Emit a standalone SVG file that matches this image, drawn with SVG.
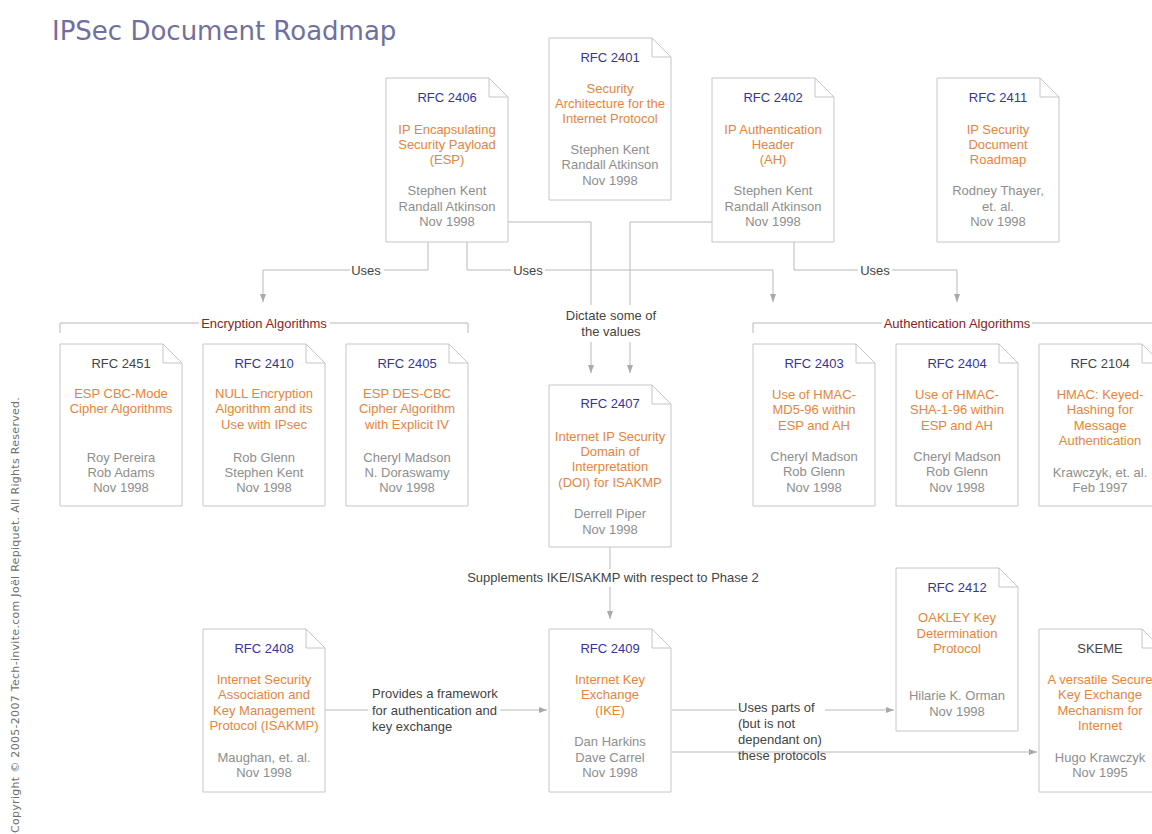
<svg xmlns="http://www.w3.org/2000/svg" width="1152" height="834" viewBox="0 0 1152 834">
<style>
.box{fill:#fff;stroke:#c6c6c6;stroke-width:1}
.fold{fill:none;stroke:#c6c6c6;stroke-width:1}
text{font-family:"Liberation Sans",Arial,sans-serif;font-size:13px}
.n text{text-anchor:middle}
.rfc{fill:#35359c}
.rfcd{fill:#444}
.ttl{fill:#e6843c}
.aut{fill:#8e8e8e}
.lbl{fill:#444}
.cat{fill:#8a2222}
.con{fill:none;stroke:#b9b9b9;stroke-width:1}
.bg{fill:#fff}
</style>
<defs>
<marker id="ah" markerUnits="userSpaceOnUse" markerWidth="9" markerHeight="7" refX="8" refY="3.5" orient="auto">
<path d="M0,0.5 L8,3.5 L0,6.5 Z" fill="#a9a9a9"/>
</marker>
</defs>
<rect width="1152" height="834" fill="#fff"/>
<text x="52" y="40" style="font-family:'DejaVu Sans',sans-serif;font-size:26px;fill:#7070a0">IPSec Document Roadmap</text>
<text transform="translate(19,833) rotate(-90)" style="font-family:'DejaVu Sans',sans-serif;font-size:11px;fill:#707070;letter-spacing:0.3px">Copyright © 2005-2007 Tech-invite.com Joël Repiquet. All Rights Reserved.</text>

<g id="connectors">
<path class="con" d="M428,242 V270 H263 V302" marker-end="url(#ah)"/>
<path class="con" d="M467,242 V270 H773 V302" marker-end="url(#ah)"/>
<path class="con" d="M508,222 H591 V373" marker-end="url(#ah)"/>
<path class="con" d="M712,222 H630 V373" marker-end="url(#ah)"/>
<path class="con" d="M794,242 V270 H957 V302" marker-end="url(#ah)"/>
<path class="con" d="M610,547 V619" marker-end="url(#ah)"/>
<path class="con" d="M325,710 H547" marker-end="url(#ah)"/>
<path class="con" d="M672,710 H894" marker-end="url(#ah)"/>
<path class="con" d="M60,333 V323 H468 V333"/>
<path class="con" d="M753,333 V323 H1161"/>
<rect class="bg" x="350" y="262" width="34" height="16"/>
<rect class="bg" x="511" y="262" width="34" height="16"/>
<rect class="bg" x="858" y="262" width="34" height="16"/>
<rect class="bg" x="560" y="305" width="102" height="37"/>
<rect class="bg" x="199" y="315" width="131" height="16"/>
<rect class="bg" x="882" y="315" width="150" height="16"/>
<rect class="bg" x="462" y="569" width="302" height="18"/>
<rect class="bg" x="368" y="686" width="132" height="49"/>
<rect class="bg" x="737" y="701" width="88" height="17"/>
<path class="con" d="M672,752 H1037" marker-end="url(#ah)"/>
<text class="lbl" x="366" y="275" text-anchor="middle">Uses</text>
<text class="lbl" x="528" y="275" text-anchor="middle">Uses</text>
<text class="lbl" x="875" y="275" text-anchor="middle">Uses</text>
<text class="lbl" x="611" y="320" text-anchor="middle">Dictate some of</text>
<text class="lbl" x="611" y="336" text-anchor="middle">the values</text>
<text class="cat" x="264" y="328" text-anchor="middle">Encryption Algorithms</text>
<text class="cat" x="957" y="328" text-anchor="middle">Authentication Algorithms</text>
<text class="lbl" x="613" y="582" text-anchor="middle">Supplements IKE/ISAKMP with respect to Phase 2</text>
<text class="lbl" x="372" y="698">Provides a framework</text>
<text class="lbl" x="372" y="715">for authentication and</text>
<text class="lbl" x="372" y="731">key exchange</text>
<text class="lbl" x="738" y="712">Uses parts of</text>
<text class="lbl" x="738" y="728">(but is not</text>
<text class="lbl" x="738" y="744">dependant on)</text>
<text class="lbl" x="738" y="760">these protocols</text>
</g>

<g id="rfc2406" class="n">
<path class="box" d="M386,78 H489 L508,97 V242 H386 Z"/><path class="fold" d="M489,78 V97 H508"/>
<text class="rfc" x="447" y="102">RFC 2406</text>
<text class="ttl" x="447" y="134">IP Encapsulating</text>
<text class="ttl" x="447" y="149">Security Payload</text>
<text class="ttl" x="447" y="164">(ESP)</text>
<text class="aut" x="447" y="195">Stephen Kent</text>
<text class="aut" x="447" y="211">Randall Atkinson</text>
<text class="aut" x="447" y="226">Nov 1998</text>
</g>

<g id="rfc2401" class="n">
<path class="box" d="M549,38 H652 L671,57 V200 H549 Z"/><path class="fold" d="M652,38 V57 H671"/>
<text class="rfc" x="610" y="62">RFC 2401</text>
<text class="ttl" x="610" y="93">Security</text>
<text class="ttl" x="610" y="108">Architecture for the</text>
<text class="ttl" x="610" y="123">Internet Protocol</text>
<text class="aut" x="610" y="154">Stephen Kent</text>
<text class="aut" x="610" y="169">Randall Atkinson</text>
<text class="aut" x="610" y="185">Nov 1998</text>
</g>

<g id="rfc2402" class="n">
<path class="box" d="M712,78 H815 L834,97 V242 H712 Z"/><path class="fold" d="M815,78 V97 H834"/>
<text class="rfc" x="773" y="102">RFC 2402</text>
<text class="ttl" x="773" y="134">IP Authentication</text>
<text class="ttl" x="773" y="149">Header</text>
<text class="ttl" x="773" y="164">(AH)</text>
<text class="aut" x="773" y="195">Stephen Kent</text>
<text class="aut" x="773" y="211">Randall Atkinson</text>
<text class="aut" x="773" y="226">Nov 1998</text>
</g>

<g id="rfc2411" class="n">
<path class="box" d="M937,78 H1040 L1059,97 V242 H937 Z"/><path class="fold" d="M1040,78 V97 H1059"/>
<text class="rfc" x="998" y="102">RFC 2411</text>
<text class="ttl" x="998" y="134">IP Security</text>
<text class="ttl" x="998" y="149">Document</text>
<text class="ttl" x="998" y="164">Roadmap</text>
<text class="aut" x="998" y="195">Rodney Thayer,</text>
<text class="aut" x="998" y="211">et. al.</text>
<text class="aut" x="998" y="226">Nov 1998</text>
</g>

<g id="rfc2451" class="n">
<path class="box" d="M60,344 H163 L182,363 V506 H60 Z"/><path class="fold" d="M163,344 V363 H182"/>
<text class="rfcd" x="121" y="368">RFC 2451</text>
<text class="ttl" x="121" y="398">ESP CBC-Mode</text>
<text class="ttl" x="121" y="413">Cipher Algorithms</text>
<text class="aut" x="121" y="462">Roy Pereira</text>
<text class="aut" x="121" y="477">Rob Adams</text>
<text class="aut" x="121" y="492">Nov 1998</text>
</g>

<g id="rfc2410" class="n">
<path class="box" d="M203,344 H306 L325,363 V506 H203 Z"/><path class="fold" d="M306,344 V363 H325"/>
<text class="rfc" x="264" y="368">RFC 2410</text>
<text class="ttl" x="264" y="398">NULL Encryption</text>
<text class="ttl" x="264" y="413">Algorithm and its</text>
<text class="ttl" x="264" y="429">Use with IPsec</text>
<text class="aut" x="264" y="462">Rob Glenn</text>
<text class="aut" x="264" y="477">Stephen Kent</text>
<text class="aut" x="264" y="492">Nov 1998</text>
</g>

<g id="rfc2405" class="n">
<path class="box" d="M346,344 H449 L468,363 V506 H346 Z"/><path class="fold" d="M449,344 V363 H468"/>
<text class="rfc" x="407" y="368">RFC 2405</text>
<text class="ttl" x="407" y="398">ESP DES-CBC</text>
<text class="ttl" x="407" y="413">Cipher Algorithm</text>
<text class="ttl" x="407" y="429">with Explicit IV</text>
<text class="aut" x="407" y="462">Cheryl Madson</text>
<text class="aut" x="407" y="477">N. Doraswamy</text>
<text class="aut" x="407" y="492">Nov 1998</text>
</g>

<g id="rfc2407" class="n">
<path class="box" d="M549,385 H652 L671,404 V547 H549 Z"/><path class="fold" d="M652,385 V404 H671"/>
<text class="rfc" x="610" y="408">RFC 2407</text>
<text class="ttl" x="610" y="441">Internet IP Security</text>
<text class="ttl" x="610" y="456">Domain of</text>
<text class="ttl" x="610" y="471">Interpretation</text>
<text class="ttl" x="610" y="487">(DOI) for ISAKMP</text>
<text class="aut" x="610" y="518">Derrell Piper</text>
<text class="aut" x="610" y="534">Nov 1998</text>
</g>

<g id="rfc2403" class="n">
<path class="box" d="M753,344 H856 L875,363 V506 H753 Z"/><path class="fold" d="M856,344 V363 H875"/>
<text class="rfc" x="814" y="368">RFC 2403</text>
<text class="ttl" x="814" y="399">Use of HMAC-</text>
<text class="ttl" x="814" y="414">MD5-96 within</text>
<text class="ttl" x="814" y="430">ESP and AH</text>
<text class="aut" x="814" y="461">Cheryl Madson</text>
<text class="aut" x="814" y="476">Rob Glenn</text>
<text class="aut" x="814" y="492">Nov 1998</text>
</g>

<g id="rfc2404" class="n">
<path class="box" d="M896,344 H999 L1018,363 V506 H896 Z"/><path class="fold" d="M999,344 V363 H1018"/>
<text class="rfc" x="957" y="368">RFC 2404</text>
<text class="ttl" x="957" y="399">Use of HMAC-</text>
<text class="ttl" x="957" y="414">SHA-1-96 within</text>
<text class="ttl" x="957" y="430">ESP and AH</text>
<text class="aut" x="957" y="461">Cheryl Madson</text>
<text class="aut" x="957" y="476">Rob Glenn</text>
<text class="aut" x="957" y="492">Nov 1998</text>
</g>

<g id="rfc2104" class="n">
<path class="box" d="M1039,344 H1142 L1161,363 V506 H1039 Z"/><path class="fold" d="M1142,344 V363 H1161"/>
<text class="rfcd" x="1100" y="368">RFC 2104</text>
<text class="ttl" x="1100" y="399">HMAC: Keyed-</text>
<text class="ttl" x="1100" y="414">Hashing for</text>
<text class="ttl" x="1100" y="430">Message</text>
<text class="ttl" x="1100" y="445">Authentication</text>
<text class="aut" x="1100" y="477">Krawczyk, et. al.</text>
<text class="aut" x="1100" y="492">Feb 1997</text>
</g>

<g id="rfc2408" class="n">
<path class="box" d="M203,629 H306 L325,648 V792 H203 Z"/><path class="fold" d="M306,629 V648 H325"/>
<text class="rfc" x="264" y="653">RFC 2408</text>
<text class="ttl" x="264" y="684">Internet Security</text>
<text class="ttl" x="264" y="699">Association and</text>
<text class="ttl" x="264" y="715">Key Management</text>
<text class="ttl" x="264" y="730">Protocol (ISAKMP)</text>
<text class="aut" x="264" y="762">Maughan, et. al.</text>
<text class="aut" x="264" y="777">Nov 1998</text>
</g>

<g id="rfc2409" class="n">
<path class="box" d="M549,629 H652 L671,648 V792 H549 Z"/><path class="fold" d="M652,629 V648 H671"/>
<text class="rfc" x="610" y="653">RFC 2409</text>
<text class="ttl" x="610" y="684">Internet Key</text>
<text class="ttl" x="610" y="699">Exchange</text>
<text class="ttl" x="610" y="715">(IKE)</text>
<text class="aut" x="610" y="746">Dan Harkins</text>
<text class="aut" x="610" y="762">Dave Carrel</text>
<text class="aut" x="610" y="777">Nov 1998</text>
</g>

<g id="rfc2412" class="n">
<path class="box" d="M896,568 H999 L1018,587 V731 H896 Z"/><path class="fold" d="M999,568 V587 H1018"/>
<text class="rfc" x="957" y="592">RFC 2412</text>
<text class="ttl" x="957" y="622">OAKLEY Key</text>
<text class="ttl" x="957" y="638">Determination</text>
<text class="ttl" x="957" y="653">Protocol</text>
<text class="aut" x="957" y="700">Hilarie K. Orman</text>
<text class="aut" x="957" y="716">Nov 1998</text>
</g>

<g id="skeme" class="n">
<path class="box" d="M1039,629 H1142 L1161,648 V792 H1039 Z"/><path class="fold" d="M1142,629 V648 H1161"/>
<text class="rfcd" x="1100" y="653">SKEME</text>
<text class="ttl" x="1100" y="684">A versatile Secure</text>
<text class="ttl" x="1100" y="699">Key Exchange</text>
<text class="ttl" x="1100" y="715">Mechanism for</text>
<text class="ttl" x="1100" y="730">Internet</text>
<text class="aut" x="1100" y="762">Hugo Krawczyk</text>
<text class="aut" x="1100" y="777">Nov 1995</text>
</g>
</svg>
